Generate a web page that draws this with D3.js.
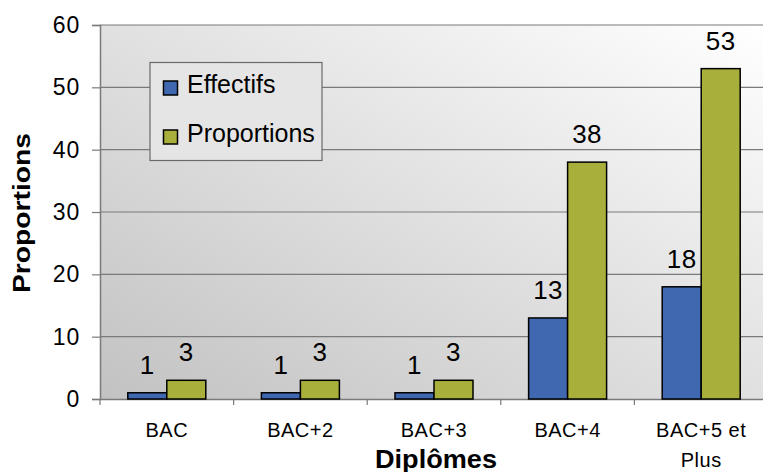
<!DOCTYPE html>
<html><head><meta charset="utf-8">
<script src="https://cdn.jsdelivr.net/npm/d3@7"></script>
<style>html,body{margin:0;padding:0;background:#fff;}svg{display:block;font-family:"Liberation Sans",Arial,sans-serif;}</style>
</head><body>
<svg id="c" width="763" height="472"></svg>
<script>
const categories = ["BAC", "BAC+2", "BAC+3", "BAC+4", "BAC+5 et Plus"];
const categoryLines = [["BAC"], ["BAC+2"], ["BAC+3"], ["BAC+4"], ["BAC+5 et", "Plus"]];
const seriesNames = ["Effectifs", "Proportions"];
const effectifs = [1, 1, 1, 13, 18];
const proportions = [3, 3, 3, 38, 53];
const yTicks = [0, 10, 20, 30, 40, 50, 60];
const colors = ["#3F68B1", "#A8AF3A"];

const svg = d3.select("#c");
const L = 100, R = 768, T = 25, B = 399;
const x0 = d3.scaleBand().domain(categories).range([L, R]).paddingInner(0).paddingOuter(0);
const x1 = d3.scaleBand().domain(seriesNames).range([0, x0.bandwidth()]).paddingInner(0).paddingOuter(0.713);
const y = d3.scaleLinear().domain([0, 60]).range([B, T]);

const defs = svg.append("defs");
const g = defs.append("linearGradient").attr("id", "bg").attr("x1", 1).attr("y1", 0).attr("x2", 0).attr("y2", 1);
g.append("stop").attr("offset", 0).attr("stop-color", "#ffffff");
g.append("stop").attr("offset", 1).attr("stop-color", "#c2c2c2");

svg.append("rect").attr("x", L).attr("y", T).attr("width", R - L).attr("height", B - T).attr("fill", "url(#bg)");

// gridlines
svg.append("g").selectAll("line").data(yTicks.filter(d => d > 0)).join("line")
  .attr("x1", L).attr("x2", R).attr("y1", d => y(d)).attr("y2", d => y(d))
  .attr("stroke", "#7a7a7a").attr("stroke-width", 1.2);

// y axis
const yAxis = svg.append("g").attr("transform", `translate(${L},0)`)
  .call(d3.axisLeft(y).tickValues(yTicks).tickSize(8).tickPadding(12));
yAxis.select(".domain").attr("stroke", "#7a7a7a").attr("stroke-width", 1.5);
yAxis.selectAll(".tick line").attr("stroke", "#7a7a7a").attr("stroke-width", 1.2);
yAxis.selectAll(".tick text").attr("font-size", 23).attr("letter-spacing", 0.8).attr("fill", "#000")
  .attr("font-family", "Liberation Sans, Arial, sans-serif");

// x axis
const xAxis = svg.append("g").attr("transform", `translate(0,${B})`)
  .call(d3.axisBottom(x0).tickSize(0).tickFormat(""));
xAxis.select(".domain").attr("stroke", "#7a7a7a").attr("stroke-width", 1.5);
xAxis.selectAll(".tick").remove();
const bounds = categories.map(c => x0(c)).concat([R]);
svg.append("g").selectAll("line").data(bounds).join("line")
  .attr("x1", d => d).attr("x2", d => d).attr("y1", B).attr("y2", B + 6)
  .attr("stroke", "#7a7a7a").attr("stroke-width", 1.2);

// category labels
const cl = svg.append("g").selectAll("text").data(categories).join("text")
  .attr("text-anchor", "middle").attr("font-size", 20).attr("letter-spacing", 0.5).attr("fill", "#000")
  .attr("transform", d => `translate(${x0(d) + x0.bandwidth() / 2},437)`);
cl.each(function(d, i) {
  d3.select(this).selectAll("tspan").data(categoryLines[i]).join("tspan")
    .attr("x", 0).attr("y", (t, j) => j * 30).text(t => t);
});

// bars
const series = [effectifs, proportions];
const groups = svg.append("g").selectAll("g").data(categories).join("g")
  .attr("transform", d => `translate(${x0(d)},0)`);
groups.selectAll("rect").data((c, i) => seriesNames.map((s, k) => ({s, k, v: series[k][i]}))).join("rect")
  .attr("x", d => x1(d.s)).attr("width", x1.bandwidth())
  .attr("y", d => y(d.v)).attr("height", d => B - y(d.v))
  .attr("fill", d => colors[d.k]).attr("stroke", "#000").attr("stroke-width", 1.5);
groups.selectAll("text").data((c, i) => seriesNames.map((s, k) => ({s, k, v: series[k][i]}))).join("text")
  .attr("x", d => x1(d.s) + x1.bandwidth() / 2).attr("y", d => y(d.v) - 19)
  .attr("text-anchor", "middle").attr("font-size", 26).attr("letter-spacing", 0.5).attr("fill", "#000").text(d => d.v);

// legend
const lg = svg.append("g");
lg.append("rect").attr("x", 150).attr("y", 62.5).attr("width", 172).attr("height", 98)
  .attr("fill", "#e5e5e5").attr("stroke", "#6a6a6a").attr("stroke-width", 1.2);
const li = lg.selectAll("g").data(seriesNames).join("g")
  .attr("transform", (d, i) => `translate(0,${i * 49})`);
li.append("rect").attr("x", 163.5).attr("y", 81).attr("width", 14).attr("height", 14)
  .attr("fill", (d, i) => colors[i]).attr("stroke", "#000").attr("stroke-width", 1.5);
li.append("text").attr("x", 187).attr("y", 93).attr("font-size", 25).attr("fill", "#000").text(d => d);

// axis titles
svg.append("text").attr("transform", "translate(29.5,213) rotate(-90)")
  .attr("text-anchor", "middle").attr("font-size", 24).attr("font-weight", "bold")
  .attr("textLength", 160).attr("lengthAdjust", "spacingAndGlyphs").text("Proportions");
svg.append("text").attr("x", 436).attr("y", 468)
  .attr("text-anchor", "middle").attr("font-size", 25).attr("font-weight", "bold")
  .attr("textLength", 122).attr("lengthAdjust", "spacingAndGlyphs").text("Diplômes");
</script>
</body></html>
